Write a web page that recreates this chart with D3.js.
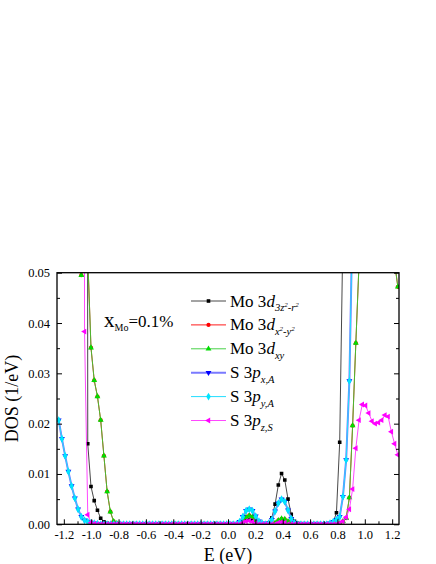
<!DOCTYPE html>
<html>
<head>
<meta charset="utf-8">
<script src="https://d3js.org/d3.v7.min.js"></script>
<style>
  body { margin: 0; background: #fff; }
  svg { display: block; font-family: "Liberation Serif", "Times New Roman", serif; }
</style>
</head>
<body>
<svg id="chart"></svg>
<script>
// energy sampling grid of the DOS curves (eV)
var eStart = -1.2376, eStep = 0.02361, nPts = 106;
var energy = d3.range(nPts).map(function(i) { return eStart + eStep * i; });

// DOS values (1/eV), one per grid point; 0.9 = off the top of the plot
var moD3z2 = [
  0.9,0.9,0.9,0.9,0.9,0.9,0.9,0.9,0.9,0.0160,
  0.0075,0.0047,0.0028,0.0012,0.0005,0.0002,0,0,0,0,
  0,0,0,0,0,0,0,0,0,0,
  0,0,0,0,0,0,0,0,0,0,
  0,0,0,0,0,0,0,0,0,0,
  0,0,0,0,0,0,0.0001,0.0004,0.0008,0.0010,
  0.0008,0.0004,0.0001,0,0,0.0003,0.0013,0.0040,0.0078,0.0101,
  0.0088,0.0050,0.0020,0.0006,0.0002,0,0,0,0,0,
  0,0,0,0,0.0001,0.0004,0.0023,0.0163,0.058,0.9,
  0.9,0.9,0.9,0.9,0.9,0.9,0.9,0.9,0.9,0.9,
  0.9,0.9,0.9,0.9,0.9,0.9
];
var moDx2y2 = [
  0.9,0.9,0.9,0.9,0.9,0.9,0.9,0.0495,0.060,0.053,
  0.0351,0.0286,0.0254,0.0207,0.0136,0.0065,0.0025,0.0006,0.0002,0,
  0,0,0,0,0,0,0,0,0,0,
  0,0,0,0,0,0,0,0,0,0,
  0,0,0,0,0,0,0,0,0,0,
  0,0,0,0,0,0,0.0002,0.0007,0.0014,0.0018,
  0.0015,0.0008,0.0003,0,0,0,0.0001,0.0003,0.0008,0.0011,
  0.0010,0.0006,0.0002,0,0,0,0,0,0,0,
  0,0,0,0,0,0,0,0.0002,0.0006,0.0012,
  0.0053,0.0196,0.0360,0.052,0.058,0.062,0.065,0.066,0.066,0.064,
  0.062,0.060,0.057,0.054,0.052,0.0472
];
var moDxy = [
  0.9,0.9,0.9,0.9,0.9,0.9,0.9,0.0495,0.060,0.053,
  0.0351,0.0286,0.0254,0.0207,0.0136,0.0065,0.0025,0.0006,0.0002,0,
  0,0,0,0,0,0,0,0,0,0,
  0,0,0,0,0,0,0,0,0,0,
  0,0,0,0,0,0,0,0,0,0,
  0,0,0,0,0,0,0.0002,0.0007,0.0014,0.0017,
  0.0015,0.0008,0.0003,0,0,0,0.0001,0.0003,0.0008,0.0011,
  0.0010,0.0006,0.0002,0,0,0,0,0,0,0,
  0,0,0,0,0,0,0,0.0002,0.0006,0.0012,
  0.0053,0.0196,0.0360,0.052,0.058,0.062,0.065,0.066,0.066,0.064,
  0.062,0.060,0.057,0.054,0.052,0.0472
];
var sPxA = [
  0.0207,0.0170,0.0136,0.0105,0.0076,0.0052,0.0030,0.0015,0.0008,0.0005,
  0.0003,0.0002,0.0001,0,0,0,0,0,0,0,
  0,0,0,0,0,0,0,0,0,0,
  0,0,0,0,0,0,0,0,0,0,
  0,0,0,0,0,0,0,0,0,0,
  0,0,0,0,0,0,0.0005,0.0015,0.0027,0.0030,
  0.0027,0.0016,0.0006,0.0002,0,0.0002,0.0009,0.0026,0.0042,0.0050,
  0.0045,0.0028,0.0011,0.0003,0,0,0,0,0,0,
  0,0,0,0,0.0002,0.0005,0.0009,0.0015,0.0055,0.0128,
  0.0285,0.062,0.9,0.9,0.9,0.9,0.9,0.9,0.9,0.9,
  0.9,0.9,0.9,0.9,0.9,0.9
];
var sPyA = [
  0.0207,0.0170,0.0136,0.0105,0.0076,0.0052,0.0030,0.0015,0.0008,0.0005,
  0.0003,0.0002,0.0001,0,0,0,0,0,0,0,
  0,0,0,0,0,0,0,0,0,0,
  0,0,0,0,0,0,0,0,0,0,
  0,0,0,0,0,0,0,0,0,0,
  0,0,0,0,0,0,0.0005,0.0015,0.0027,0.0030,
  0.0027,0.0016,0.0006,0.0002,0,0.0002,0.0009,0.0026,0.0042,0.0050,
  0.0045,0.0028,0.0011,0.0003,0,0,0,0,0,0,
  0,0,0,0,0.0002,0.0005,0.0009,0.0015,0.0055,0.0128,
  0.0285,0.062,0.9,0.9,0.9,0.9,0.9,0.9,0.9,0.9,
  0.9,0.9,0.9,0.9,0.9,0.9
];
var sPzS = [
  0.9,0.9,0.9,0.9,0.9,0.9,0.9,0.9,0.0383,0.0019,
  0.0003,0.0001,0,0,0,0,0,0,0,0,
  0,0,0,0,0,0,0,0,0,0,
  0,0,0,0,0,0,0,0,0,0,
  0,0,0,0,0,0,0,0,0,0,
  0,0,0,0,0,0,0,0.0003,0.0006,0.0007,
  0.0005,0.0002,0,0,0,0,0,0,0.0003,0.0004,
  0.0003,0,0,0,0,0,0,0,0,0,
  0,0,0,0,0,0,0,0.0002,0.0006,0.0014,
  0.0030,0.0070,0.0151,0.0207,0.0238,0.0236,0.0221,0.0205,0.0200,0.0202,
  0.0207,0.0217,0.0214,0.0184,0.0160,0.0138
];

var xTicks = [-1.2,-1.0,-0.8,-0.6,-0.4,-0.2,0.0,0.2,0.4,0.6,0.8,1.0,1.2];
var xMinor = [-1.1,-0.9,-0.7,-0.5,-0.3,-0.1,0.1,0.3,0.5,0.7,0.9,1.1];
var yTicks = [0.00,0.01,0.02,0.03,0.04,0.05];
var yMinor = [0.005,0.015,0.025,0.035,0.045];

var series = [
  { values: moD3z2,  color: "#000000", line: "#333333", width: 0.9, marker: "square" },
  { values: moDx2y2, color: "#ff0000", line: "#ff0000", width: 0.9, marker: "circle" },
  { values: moDxy,   color: "#00dd00", line: "#33cc33", width: 0.9, marker: "up" },
  { values: sPxA,    color: "#0000ff", line: "#7a7aff", width: 2,   marker: "down" },
  { values: sPyA,    color: "#00e5ff", line: "#22ddff", width: 1,   marker: "diamond" },
  { values: sPzS,    color: "#ff00ff", line: "#ff33ff", width: 0.9, marker: "left" }
];

var W = 436, H = 564;
var plotL = 57, plotR = 399, plotT = 272.7, plotB = 524.3;
var serif = "Liberation Serif";

var svg = d3.select("#chart").attr("width", W).attr("height", H);

var x = d3.scaleLinear().domain([-1.25, 1.25]).range([plotL, plotR]);
var y = d3.scaleLinear().domain([0, 0.05]).range([plotB, plotT]);

svg.append("defs").append("clipPath").attr("id", "plot")
  .append("rect")
    .attr("x", plotL).attr("y", plotT)
    .attr("width", plotR - plotL).attr("height", plotB - plotT);

function markerPath(kind) {
  var sym = d3.symbol();
  if (kind == "square") return sym.type(d3.symbolSquare).size(13)();
  if (kind == "circle") return sym.type(d3.symbolCircle).size(14)();
  if (kind == "diamond") return sym.type(d3.symbolDiamond).size(18)();
  return sym.type(d3.symbolTriangle).size(15)();
}
function markerRot(kind) {
  if (kind == "down") return " rotate(180)";
  if (kind == "left") return " rotate(-90)";
  return "";
}

/*
 *    C U R V E S
 */
var plotG = svg.append("g").attr("clip-path", "url(#plot)");

var line = d3.line()
  .x(function(d) { return x(d[0]); })
  .y(function(d) { return y(d[1]); });

series.forEach(function(s) {
  var pts = energy.map(function(e, i) { return [e, s.values[i]]; });
  var g = plotG.append("g");
  g.append("path")
    .attr("d", line(pts))
    .attr("fill", "none")
    .attr("stroke", s.line)
    .attr("stroke-width", s.width);
  g.selectAll("path.mk")
    .data(pts.filter(function(p) { return p[1] < 0.06; }))
    .enter().append("path")
      .attr("class", "mk")
      .attr("d", markerPath(s.marker))
      .attr("transform", function(p) {
        return "translate(" + x(p[0]) + "," + y(p[1]) + ")" + markerRot(s.marker);
      })
      .attr("fill", s.color);
});

/*
 *    A X E S
 */
function styleAxis(g) {
  g.attr("font-family", serif).attr("font-size", 12.5);
  g.select(".domain").remove();
  g.selectAll(".tick line").attr("stroke", "#000").attr("stroke-width", 1);
  g.selectAll(".tick text").attr("fill", "#000");
}

svg.append("g").attr("transform", "translate(0," + plotB + ")")
  .call(d3.axisBottom(x).tickValues(xTicks).tickSize(-5).tickPadding(6)
    .tickFormat(function(d) { return d.toFixed(1); }))
  .call(styleAxis);
svg.append("g").attr("transform", "translate(0," + plotB + ")")
  .call(d3.axisBottom(x).tickValues(xMinor).tickSize(-3).tickFormat(""))
  .call(styleAxis);

svg.append("g").attr("transform", "translate(" + plotL + ",0)")
  .call(d3.axisLeft(y).tickValues(yTicks).tickSize(-5).tickPadding(7)
    .tickFormat(function(d) { return d.toFixed(2); }))
  .call(styleAxis);
svg.append("g").attr("transform", "translate(" + plotL + ",0)")
  .call(d3.axisLeft(y).tickValues(yMinor).tickSize(-3).tickFormat(""))
  .call(styleAxis);

svg.append("g").attr("transform", "translate(" + plotR + ",0)")
  .call(d3.axisRight(y).tickValues(yTicks).tickSize(-5).tickFormat(""))
  .call(styleAxis);
svg.append("g").attr("transform", "translate(" + plotR + ",0)")
  .call(d3.axisRight(y).tickValues(yMinor).tickSize(-3).tickFormat(""))
  .call(styleAxis);

// frame
svg.append("rect")
  .attr("x", plotL).attr("y", plotT)
  .attr("width", plotR - plotL).attr("height", plotB - plotT)
  .attr("fill", "none").attr("stroke", "#000").attr("stroke-width", 1.3);

svg.append("text")
  .attr("x", (plotL + plotR) / 2).attr("y", 561)
  .attr("text-anchor", "middle")
  .attr("font-family", serif).attr("font-size", 18)
  .text("E (eV)");

svg.append("text")
  .attr("transform", "translate(18," + ((plotT + plotB) / 2) + ") rotate(-90)")
  .attr("text-anchor", "middle")
  .attr("font-family", serif).attr("font-size", 18)
  .text("DOS (1/eV)");

/*
 *    L A B E L S
 */
var note = svg.append("text").attr("x", 104).attr("y", 327).attr("font-family", serif);
note.append("tspan").attr("font-size", 21).text("x");
note.append("tspan").attr("font-size", 10).attr("dy", 4).text("Mo");
note.append("tspan").attr("font-size", 17).attr("dy", -4).text("=0.1%");

// legend: [main, italic, subscript parts [text, isSuperscript]]
var legendLabels = [
  ["Mo 3", "d", [["3z", 0], ["2", 1], ["-r", 0], ["2", 1]]],
  ["Mo 3", "d", [["x", 0], ["2", 1], ["-y", 0], ["2", 1]]],
  ["Mo 3", "d", [["xy", 0]]],
  ["S 3", "p", [["x,A", 0]]],
  ["S 3", "p", [["y,A", 0]]],
  ["S 3", "p", [["z,S", 0]]]
];

var legend = svg.append("g");
legendLabels.forEach(function(lab, i) {
  var s = series[i];
  var ly = 301 + i * 23.9;
  legend.append("line")
    .attr("x1", 191).attr("x2", 226).attr("y1", ly).attr("y2", ly)
    .attr("stroke", s.line).attr("stroke-width", s.width);
  legend.append("path")
    .attr("d", markerPath(s.marker))
    .attr("transform", "translate(208.5," + ly + ")" + markerRot(s.marker))
    .attr("fill", s.color);
  var t = legend.append("text").attr("x", 230).attr("y", ly + 5.5)
    .attr("font-family", serif).attr("font-size", 17);
  t.append("tspan").text(lab[0]);
  t.append("tspan").attr("font-style", "italic").text(lab[1]);
  var level = 0;
  lab[2].forEach(function(part, k) {
    var target = part[1] ? -4 : 0;
    var dy = (k == 0 ? 4.5 : 0) + (target - level);
    level = target;
    t.append("tspan")
      .attr("font-style", "italic")
      .attr("font-size", part[1] ? 7 : 10.5)
      .attr("dy", dy)
      .text(part[0]);
  });
});
</script>
</body>
</html>
